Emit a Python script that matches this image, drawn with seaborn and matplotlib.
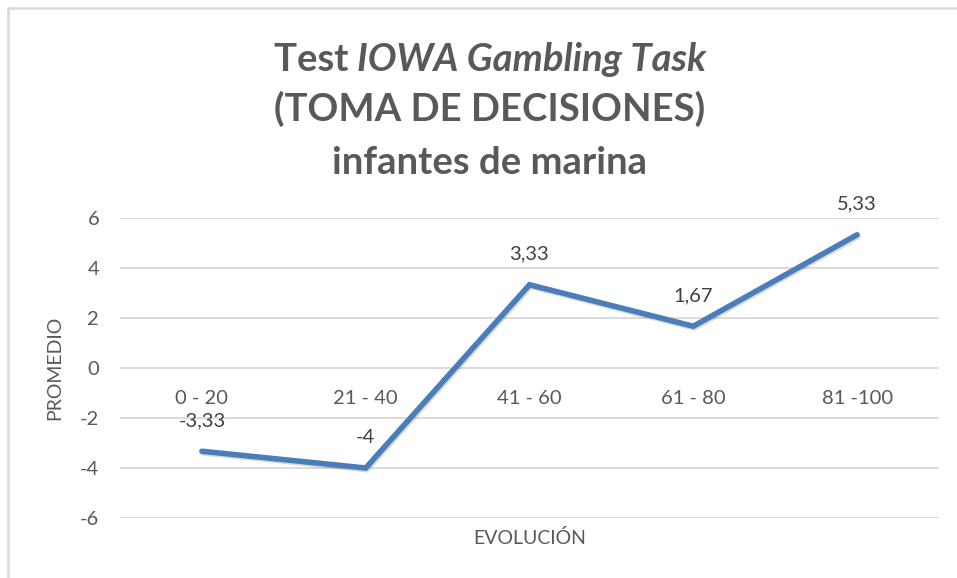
import matplotlib
matplotlib.use("Agg")
import matplotlib.pyplot as plt
import matplotlib.patheffects as pe
from matplotlib.lines import Line2D
import seaborn as sns
import pandas as pd

categories = ["0 - 20", "21 - 40", "41 - 60", "61 - 80", "81 -100"]
values = [-3.33, -4, 3.33, 1.67, 5.33]
value_labels = ["-3,33", "-4", "3,33", "1,67", "5,33"]
y_ticks = [-6, -4, -2, 0, 2, 4, 6]

sns.set_theme(style="white")
plt.rcParams['font.family'] = ['Lato', 'DejaVu Sans']

W, H, DPI = 957, 578, 100
fig = plt.figure(figsize=(W / DPI, H / DPI), dpi=DPI)
fig.patch.set_facecolor("white")

def px(x0, y0, x1, y1):
    return [x0 / W, 1 - y1 / H, (x1 - x0) / W, (y1 - y0) / H]

ax = fig.add_axes(px(120, 218, 939, 518))
df = pd.DataFrame({"cat": categories, "val": values})
TXT = "#595959"
LINE = "#4A7EBB"

sns.lineplot(data=df, x="cat", y="val", ax=ax, color=LINE, linewidth=4.0,
             sort=False, solid_capstyle="round", solid_joinstyle="miter",
             path_effects=[pe.SimpleLineShadow(offset=(0.8, -1.2), alpha=0.15, shadow_color="black"),
                           pe.Normal()])

ax.set_xlim(-0.5, len(categories) - 0.5)
ax.set_ylim(-6, 6)
ax.set_yticks(y_ticks)
ax.set_yticklabels([str(t) for t in y_ticks])
ax.grid(axis="y", color="#D9D9D9", linewidth=1.3)
ax.set_axisbelow(True)
for s in ["top", "right", "left"]:
    ax.spines[s].set_visible(False)
ax.spines["bottom"].set_position(("data", 0))
ax.spines["bottom"].set_visible(False)
ax.tick_params(axis="x", length=0, pad=16, labelsize=14.5, labelcolor=TXT)
ax.tick_params(axis="y", length=0, pad=15, labelsize=14.5, labelcolor=TXT)
ax.set_xlabel("")
ax.set_ylabel("")

for i, (v, lab) in enumerate(zip(values, value_labels)):
    ax.annotate(lab, xy=(i, v), xytext=(0, 22), textcoords="offset points",
                ha="center", va="center", fontsize=14.5, color="#404040")

fig.text(55 / W, 1 - 368 / H, "PROMEDIO", rotation=90, ha="center", va="center",
         fontsize=14, color=TXT)
fig.text(530 / W, 1 - 538 / H, "EVOLUCIÓN", ha="center", va="center",
         fontsize=14, color=TXT)

# title
TS = 27.5
cx = 490 / W
fig.canvas.draw()
r = fig.canvas.get_renderer()
t1 = fig.text(0, 1 - 71 / H, "Test ", fontsize=TS, fontweight="bold", color=TXT, ha="left", va="baseline")
t2 = fig.text(0, 1 - 71 / H, "IOWA Gambling Task", fontsize=TS, fontweight="bold", style="italic",
              color=TXT, ha="left", va="baseline")
w1 = t1.get_window_extent(r).width
w2 = t2.get_window_extent(r).width
x0 = cx * W - (w1 + w2) / 2
t1.set_x(x0 / W)
t2.set_x((x0 + w1) / W)
fig.text(cx, 1 - 121 / H, "(TOMA DE DECISIONES)", fontsize=TS, fontweight="bold", color=TXT,
         ha="center", va="baseline")
fig.text(cx, 1 - 174 / H, "infantes de marina", fontsize=TS, fontweight="bold", color=TXT,
         ha="center", va="baseline")

# chart border
bc = "#D9D9D9"
fig.add_artist(Line2D([8 / W, 1], [1 - 8 / H, 1 - 8 / H], color=bc, linewidth=1.8, transform=fig.transFigure))
fig.add_artist(Line2D([8 / W, 8 / W], [0, 1 - 8 / H], color=bc, linewidth=1.8, transform=fig.transFigure))

fig.savefig("out.png", dpi=DPI)
